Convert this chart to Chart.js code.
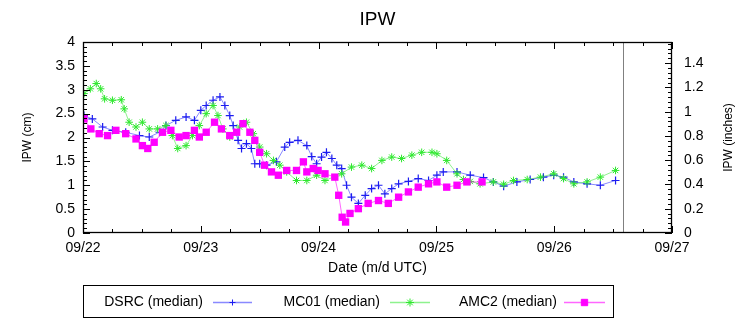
<!DOCTYPE html>
<html>
<head>
<meta charset="utf-8">
<script src="https://cdn.jsdelivr.net/npm/chart.js@4"></script>
<style>
  html, body { margin: 0; padding: 0; background: #fff; }
</style>
</head>
<body>
<canvas id="ipw" width="756" height="324"></canvas>
<script>
// x values are hours since 09/22 00:00 UTC, y values are IPW in cm
const dateLabels = ['09/22', '09/23', '09/24', '09/25', '09/26', '09/27'];
const cmTicks = [0, 0.5, 1, 1.5, 2, 2.5, 3, 3.5, 4];
const inchTicks = [0, 0.2, 0.4, 0.6, 0.8, 1, 1.2, 1.4];
const nowHour = 110;

const dsrcHours = [0.2, 1.9, 4.0, 6.0, 8.7, 11.5, 13.5, 15.6, 16.9, 18.9, 21.0, 22.7, 24.0, 25.1, 26.5,
  27.9, 28.9, 29.9, 30.6, 31.6, 32.3, 33.3, 34.3, 35.0, 36.0, 37.4, 39.4, 41.1, 42.1, 43.8,
  45.6, 46.6, 47.6, 48.6, 49.6, 50.7, 51.7, 52.7, 53.7, 54.7, 56.1, 57.5, 58.8, 60.2, 61.5,
  62.9, 64.3, 66.3, 68.3, 70.4, 72.1, 73.4, 76.2, 78.9, 81.6, 83.6, 85.7, 88.4, 91.1, 93.8,
  95.9, 97.9, 100.0, 102.7, 105.4, 108.5];
const dsrcIpw = [2.46, 2.39, 2.22, 2.15, 2.11, 2.04, 2.01, 2.11, 2.25, 2.36, 2.43, 2.36, 2.57, 2.67, 2.78,
  2.85, 2.67, 2.46, 2.25, 1.94, 1.77, 1.87, 1.77, 1.45, 1.45, 1.42, 1.49, 1.80, 1.90, 1.94,
  1.83, 1.60, 1.45, 1.59, 1.69, 1.56, 1.42, 1.35, 1.00, 0.75, 0.62, 0.79, 0.93, 1.00, 0.82,
  0.93, 1.03, 1.08, 1.14, 1.10, 1.21, 1.28, 1.28, 1.21, 1.16, 1.07, 0.98, 1.07, 1.12, 1.17,
  1.21, 1.17, 1.07, 1.03, 1.00, 1.10];

const mc01Hours = [0.2, 1.5, 2.7, 3.6, 4.4, 6.0, 7.8, 8.4, 9.4, 10.8, 12.1, 13.5, 15.2, 16.9, 18.2,
  19.3, 21.0, 22.3, 23.7, 25.1, 26.5, 27.5, 28.5, 29.9, 31.9, 33.3, 34.7, 36.0, 37.4, 38.8,
  40.1, 41.5, 43.5, 45.6, 47.6, 49.3, 52.7, 54.7, 56.8, 58.8, 60.9, 62.9, 64.9, 67.0, 69.0,
  71.1, 72.1, 74.1, 76.2, 77.5, 78.9, 80.9, 83.6, 85.7, 87.7, 90.5, 93.2, 95.9, 97.9, 100.0,
  102.7, 105.4, 108.5];
const mc01Ipw = [2.92, 3.02, 3.13, 3.02, 2.81, 2.78, 2.79, 2.60, 2.32, 2.22, 2.32, 2.18, 2.18, 2.25, 2.04,
  1.77, 1.83, 2.04, 2.25, 2.50, 2.67, 2.46, 2.18, 2.01, 2.22, 2.32, 2.08, 1.80, 1.66, 1.52,
  1.42, 1.28, 1.10, 1.10, 1.21, 1.10, 1.24, 1.38, 1.42, 1.35, 1.52, 1.59, 1.56, 1.63, 1.69,
  1.69, 1.66, 1.52, 1.24, 1.12, 1.08, 1.03, 1.07, 1.02, 1.10, 1.12, 1.17, 1.24, 1.14, 1.03,
  1.07, 1.17, 1.31];

const amc2Hours = [0.2, 1.6, 3.3, 5.0, 6.7, 8.7, 10.8, 12.1, 13.2, 14.5, 16.2, 17.9, 19.6, 21.0, 22.7,
  23.7, 25.1, 26.8, 28.2, 29.9, 31.3, 32.6, 34.0, 35.0, 36.0, 37.0, 38.4, 39.8, 41.5, 43.5,
  44.9, 45.6, 46.9, 47.9, 49.3, 51.3, 52.1, 52.8, 53.5, 54.4, 56.1, 58.1, 60.2, 62.2, 64.3,
  66.3, 68.3, 70.4, 72.1, 74.1, 76.2, 78.2, 81.3];
const amc2Ipw = [2.39, 2.18, 2.08, 2.04, 2.15, 2.08, 1.97, 1.83, 1.77, 1.90, 2.11, 2.15, 2.01, 2.04, 2.15,
  2.01, 2.11, 2.32, 2.18, 2.04, 2.11, 2.29, 2.11, 1.94, 1.69, 1.42, 1.28, 1.21, 1.31, 1.31,
  1.49, 1.28, 1.35, 1.31, 1.24, 1.17, 0.79, 0.33, 0.23, 0.41, 0.51, 0.62, 0.68, 0.62, 0.75,
  0.86, 0.96, 1.03, 1.07, 0.96, 1.00, 1.07, 1.07];

const FONT = "'Liberation Sans', Arial, Helvetica, sans-serif";
const zip = (xs, ys) => xs.map((x, i) => ({ x, y: ys[i] }));

// gnuplot-like frame: inward ticks, box, titles and boxed legend
const frame = {
  id: 'frame',
  afterDraw(chart) {
    const { ctx, chartArea: a } = chart;
    const { x, y, y2 } = chart.scales;
    const seg = (x1, y1, x2, y2_) => { ctx.beginPath(); ctx.moveTo(x1, y1); ctx.lineTo(x2, y2_); ctx.stroke(); };
    ctx.save();

    ctx.strokeStyle = '#808080';
    ctx.lineWidth = 1;
    const nx = Math.round(x.getPixelForValue(nowHour)) + 0.5;
    seg(nx, a.top, nx, a.bottom);

    ctx.strokeStyle = '#000';
    for (let h = 0; h <= 120; h += 6) {
      const px = Math.round(x.getPixelForValue(h)) + 0.5;
      const len = h % 24 ? 4 : 7;
      seg(px, a.bottom, px, a.bottom - len);
      seg(px, a.top, px, a.top + len);
    }
    for (let k = 0; k <= 40; k++) {
      const py = Math.round(y.getPixelForValue(k / 10)) + 0.5;
      seg(a.left, py, a.left + (k % 5 ? 4 : 7), py);
    }
    for (let k = 0; k * 0.04 <= y2.max + 1e-9; k++) {
      const py = Math.round(y2.getPixelForValue(k * 0.04)) + 0.5;
      seg(a.right, py, a.right - (k % 5 ? 4 : 7), py);
    }
    ctx.lineWidth = 1.3;
    ctx.strokeRect(a.left + 0.5, a.top + 0.5, a.right - a.left - 1, a.bottom - a.top - 1);

    ctx.fillStyle = '#000';
    ctx.textAlign = 'center';
    ctx.textBaseline = 'middle';
    const cx = (a.left + a.right) / 2, cy = (a.top + a.bottom) / 2;
    ctx.font = '19px ' + FONT;
    ctx.fillText('IPW', cx, 20);
    ctx.font = '14px ' + FONT;
    ctx.fillText('Date (m/d UTC)', cx, 268);
    ctx.font = '12px ' + FONT;
    [[28, 'IPW (cm)'], [729, 'IPW (inches)']].forEach(([tx, t]) => {
      ctx.save();
      ctx.translate(tx, cy);
      ctx.rotate(-Math.PI / 2);
      ctx.fillText(t, 0, 0);
      ctx.restore();
    });

    // legend
    ctx.lineWidth = 1;
    ctx.strokeStyle = '#000';
    ctx.strokeRect(83.5, 285.5, 530, 32);
    const slots = [[203, 213, 252], [380, 390, 430], [557, 564, 605]];
    ctx.font = '14px ' + FONT;
    ctx.textAlign = 'right';
    chart.data.datasets.forEach((ds, i) => {
      const [tr, l0, l1] = slots[i];
      const ly = 302;
      ctx.fillStyle = '#000';
      ctx.fillText(ds.label, tr, ly);
      ctx.strokeStyle = ds.borderColor;
      ctx.lineWidth = 1.5;
      seg(l0, ly + 0.5, l1, ly + 0.5);
      ctx.strokeStyle = ds.pointBorderColor;
      ctx.fillStyle = ds.pointBackgroundColor;
      ctx.lineWidth = 1;
      Chart.helpers.drawPoint(ctx, {
        pointStyle: ds.pointStyle, radius: ds.legendRadius, rotation: 0, borderWidth: 1
      }, (l0 + l1) / 2, ly + 0.5);
    });
    ctx.restore();
  }
};

new Chart(document.getElementById('ipw'), {
  type: 'line',
  data: {
    datasets: [{
      label: 'DSRC (median)',
      data: zip(dsrcHours, dsrcIpw),
      borderColor: 'rgba(40,40,255,0.55)',
      borderWidth: 1,
      pointStyle: 'cross',
      pointRadius: 4,
      legendRadius: 3,
      pointBorderColor: '#1c1cf0',
      pointBackgroundColor: '#1c1cf0',
      pointBorderWidth: 1.2,
      order: 3
    }, {
      label: 'MC01 (median)',
      data: zip(mc01Hours, mc01Ipw),
      borderColor: 'rgba(30,230,30,0.5)',
      borderWidth: 1,
      pointStyle: 'star',
      pointRadius: 3.8,
      legendRadius: 4,
      pointBorderColor: '#2ee82e',
      pointBackgroundColor: 'rgba(0,0,0,0)',
      pointBorderWidth: 1,
      order: 2
    }, {
      label: 'AMC2 (median)',
      data: zip(amc2Hours, amc2Ipw),
      borderColor: 'rgba(255,0,255,0.6)',
      borderWidth: 1,
      pointStyle: 'rect',
      pointRadius: 5.2,
      legendRadius: 4.5,
      pointBorderColor: '#ff00ff',
      pointBackgroundColor: '#ff00ff',
      pointBorderWidth: 0,
      order: 1
    }]
  },
  options: {
    responsive: false,
    animation: false,
    devicePixelRatio: 1,
    layout: { padding: { top: 42, bottom: 71, left: 0, right: 0 } },
    elements: { line: { tension: 0 } },
    plugins: { legend: { display: false }, tooltip: { enabled: false }, title: { display: false } },
    scales: {
      x: {
        type: 'linear', min: 0, max: 120,
        afterBuildTicks: s => { s.ticks = dateLabels.map((_, i) => ({ value: i * 24 })); },
        afterFit: s => { s.height = 20; },
        ticks: {
          callback: v => dateLabels[Math.round(v / 24)],
          font: { family: FONT, size: 14 }, color: '#000',
          padding: 7, maxRotation: 0, autoSkip: false
        },
        grid: { display: false, drawTicks: false },
        border: { display: false }
      },
      y: {
        position: 'left', min: 0, max: 4,
        afterBuildTicks: s => { s.ticks = cmTicks.map(v => ({ value: v })); },
        afterFit: s => { s.width = 83; },
        ticks: { callback: v => String(v), font: { family: FONT, size: 14 }, color: '#000', padding: 8 },
        grid: { display: false, drawTicks: false },
        border: { display: false }
      },
      y2: {
        position: 'right', min: 0, max: 4 / 2.54,
        afterBuildTicks: s => { s.ticks = inchTicks.map(v => ({ value: v })); },
        afterFit: s => { s.width = 84; },
        ticks: { callback: v => String(v), font: { family: FONT, size: 14 }, color: '#000', padding: 12 },
        grid: { display: false, drawTicks: false },
        border: { display: false }
      }
    }
  },
  plugins: [frame]
});
</script>
</body>
</html>
